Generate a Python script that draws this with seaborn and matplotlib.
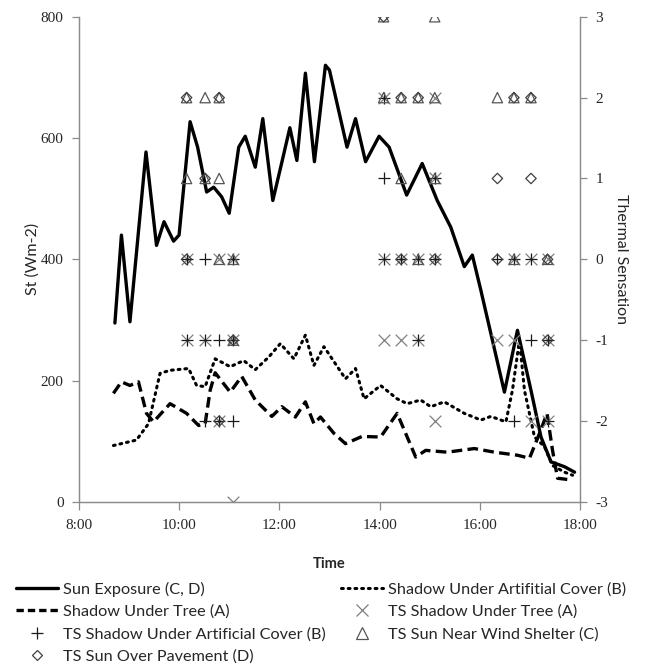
import numpy as np
import pandas as pd
import matplotlib
matplotlib.use("Agg")
import matplotlib.pyplot as plt
from matplotlib.lines import Line2D
from matplotlib.ticker import FuncFormatter
import seaborn as sns

# -- radiation curves (time in decimal hours, St in W/m2) --
sun_time = [8.72, 8.85, 9.02, 9.34, 9.55, 9.70, 9.89, 10.0, 10.22, 10.37, 10.55, 10.69,
            10.85, 11.0, 11.19, 11.32, 11.52, 11.67, 11.87, 12.05, 12.21, 12.35, 12.52,
            12.70, 12.92, 13.0, 13.35, 13.52, 13.72, 13.99, 14.19, 14.54, 14.85, 15.15,
            15.42, 15.69, 15.85, 16.02, 16.49, 16.75, 17.02, 17.22, 17.42, 17.69, 17.89]
sun_st = [295, 440, 297, 577, 423, 462, 430, 440, 627, 585, 511, 519,
          503, 476, 585, 603, 552, 632, 497, 560, 617, 563, 707,
          561, 720, 712, 585, 632, 561, 603, 585, 506, 558, 497,
          453, 388, 407, 349, 181, 283, 184, 107, 66, 58, 49]

cover_time = [8.69, 9.15, 9.39, 9.62, 9.82, 10.19, 10.35, 10.52, 10.72, 11.02, 11.29,
              11.52, 11.79, 12.02, 12.29, 12.52, 12.69, 12.89, 13.32, 13.52, 13.69,
              14.02, 14.35, 14.55, 14.82, 15.02, 15.29, 15.69, 16.02, 16.22, 16.52,
              16.65, 16.79, 16.89, 17.09, 17.29, 17.45, 17.69, 17.85]
cover_st = [93, 102, 129, 212, 217, 220, 192, 190, 236, 223, 233,
            218, 239, 261, 236, 275, 225, 256, 203, 220, 170,
            192, 170, 162, 168, 157, 165, 146, 135, 141, 132,
            184, 267, 184, 107, 91, 60, 49, 44]

tree_time = [8.69, 8.85, 9.02, 9.19, 9.35, 9.49, 9.82, 10.15, 10.39, 10.52, 10.62, 10.72,
             11.02, 11.25, 11.52, 11.85, 12.05, 12.32, 12.52, 12.69, 12.82, 13.09, 13.32,
             13.65, 14.02, 14.35, 14.52, 14.72, 14.92, 15.35, 15.89, 16.29, 16.75, 16.99,
             17.19, 17.34, 17.45, 17.55, 17.85]
tree_st = [179, 198, 192, 198, 146, 132, 162, 146, 126, 129, 184, 213,
           181, 207, 168, 141, 157, 140, 165, 129, 140, 113, 96,
           108, 107, 146, 113, 74, 85, 82, 88, 82, 77, 72,
           113, 146, 85, 39, 36]

# -- thermal sensation votes (time in decimal hours, TS scale -3..3) --
ts_tree_time = [14.08, 15.10, 15.10,
                10.15, 10.80, 11.08, 14.08, 14.43, 14.77, 15.10, 16.68, 17.02, 17.35,
                10.15, 10.52, 11.08, 14.08, 14.43, 14.77, 16.35, 16.68, 17.35,
                10.80, 15.10, 17.02, 17.35, 11.08]
ts_tree = [2, 2, 1,
           0, 0, 0, 0, 0, 0, 0, 0, 0, 0,
           -1, -1, -1, -1, -1, -1, -1, -1, -1,
           -2, -2, -2, -2, -3]

ts_cover_time = [14.08, 14.08, 15.10,
                 10.15, 10.52, 11.08, 14.08, 14.43, 14.77, 15.10, 16.35, 16.68, 17.02,
                 10.15, 10.52, 10.80, 11.08, 14.77, 17.02, 17.35,
                 10.52, 10.80, 11.08, 16.68, 17.35]
ts_cover = [2, 1, 1,
            0, 0, 0, 0, 0, 0, 0, 0, 0, 0,
            -1, -1, -1, -1, -1, -1, -1,
            -2, -2, -2, -2, -2]

ts_wind_time = [14.08, 15.10,
                10.15, 10.52, 10.80, 14.08, 14.43, 14.77, 15.10, 16.35, 16.68, 17.02,
                10.15, 10.52, 10.80, 14.43, 15.10,
                10.80, 11.08, 14.77, 16.68, 17.35,
                11.08]
ts_wind = [3, 3,
           2, 2, 2, 2, 2, 2, 2, 2, 2, 2,
           1, 1, 1, 1, 1,
           0, 0, 0, 0, 0,
           -1]

ts_pave_time = [14.08,
                10.15, 10.80, 14.43, 14.77, 16.68, 17.02,
                10.52, 16.35, 17.02,
                10.15, 14.43, 15.10, 16.35, 17.35,
                11.08, 17.35, 10.80]
ts_pave = [3,
           2, 2, 2, 2, 2, 2,
           1, 1, 1,
           0, 0, 0, 0, 0,
           -1, -1, -2]

sans = ["Lato", "DejaVu Sans"]
grey = "#8c8c8c"

sns.set_style("white")
# tick numbers are serif; every other text asks for the sans list explicitly
plt.rcParams["font.family"] = ["Liberation Serif", "DejaVu Serif"]
plt.rcParams["axes.unicode_minus"] = False

fig = plt.figure(figsize=(6.46, 6.71), dpi=100)
ax = fig.add_axes([0.122, 0.252, 0.776, 0.723])
ax2 = ax.twinx()

sns.lineplot(x=sun_time, y=sun_st, ax=ax, color="black", linewidth=2.4,
             solid_joinstyle="round", errorbar=None, legend=False)
sns.lineplot(x=cover_time, y=cover_st, ax=ax, color="black", linewidth=2.2,
             linestyle=(0, (0.6, 1.6)), dash_capstyle="round", errorbar=None, legend=False)
sns.lineplot(x=tree_time, y=tree_st, ax=ax, color="black", linewidth=2.4,
             linestyle=(0, (3.2, 1.6)), errorbar=None, legend=False)

sns.scatterplot(x=ts_tree_time, y=ts_tree, ax=ax2, marker="x", color="#7f7f7f",
                s=70, linewidth=0.9, legend=False)
sns.scatterplot(x=ts_cover_time, y=ts_cover, ax=ax2, marker="+", color="#1a1a1a",
                s=70, linewidth=0.9, legend=False)
sns.scatterplot(x=ts_wind_time, y=ts_wind, ax=ax2, marker="^", facecolor="none",
                edgecolor="#555555", s=55, linewidth=0.9, legend=False)
sns.scatterplot(x=ts_pave_time, y=ts_pave, ax=ax2, marker="D", facecolor="none",
                edgecolor="#404040", s=28, linewidth=0.9, legend=False)

ax.set_xlim(8, 18)
ax.set_ylim(0, 800)
ax2.set_ylim(-3, 3)
ax.set_xticks([8, 10, 12, 14, 16, 18])
ax.xaxis.set_major_formatter(FuncFormatter(lambda v, p: f"{int(v)}:00"))
ax.set_yticks([0, 200, 400, 600, 800])
ax2.set_yticks([-3, -2, -1, 0, 1, 2, 3])

for a in (ax, ax2):
    for side, sp in a.spines.items():
        sp.set_visible(side != "top")
        sp.set_color(grey)
        sp.set_linewidth(0.9)
    a.tick_params(direction="out", length=5, width=0.9, color=grey,
                  labelsize=11, pad=6)
ax.tick_params(axis="x", bottom=True, length=6)
ax.tick_params(axis="y", left=True)
ax2.tick_params(axis="y", right=True)

ax.set_xlabel("Time", fontsize=10.5, fontweight="bold", labelpad=18, family=sans)
ax.set_ylabel("St (Wm-2)", fontsize=11.5, family=sans, va="center")
ax.yaxis.set_label_coords(-0.092, 0.5)
ax2.set_ylabel("Thermal Sensation", fontsize=11.5, rotation=270, family=sans,
               va="center")
ax2.yaxis.set_label_coords(1.082, 0.5)

handles = [
    Line2D([], [], color="black", lw=2.4),
    Line2D([], [], color="black", lw=2.4, ls=(0, (2.2, 1.2))),
    Line2D([], [], color="#1a1a1a", ls="none", marker="+", ms=9, mew=0.9),
    Line2D([], [], color="#404040", ls="none", marker="D", ms=5.5, mew=0.9, mfc="none"),
    Line2D([], [], color="black", lw=2.2, ls=(0, (0.6, 1.6)), dash_capstyle="round"),
    Line2D([], [], color="#7f7f7f", ls="none", marker="x", ms=9, mew=0.9),
    Line2D([], [], color="#555555", ls="none", marker="^", ms=8, mew=0.9, mfc="none"),
]
labels = [
    "Sun Exposure (C, D)",
    "Shadow Under Tree (A)",
    "TS Shadow Under Artificial Cover (B)",
    "TS Sun Over Pavement (D)",
    "Shadow Under Artifitial Cover (B)",
    "TS Shadow Under Tree (A)",
    "TS Sun Near Wind Shelter (C)",
]
fig.legend(handles, labels, ncol=2, loc="upper left", bbox_to_anchor=(0.015, 0.143),
           frameon=False, prop={"family": sans, "size": 11.7}, handlelength=2.6,
           handletextpad=0.3, columnspacing=0.9, labelspacing=0.5, borderaxespad=0)

fig.savefig("out.png", dpi=100)
